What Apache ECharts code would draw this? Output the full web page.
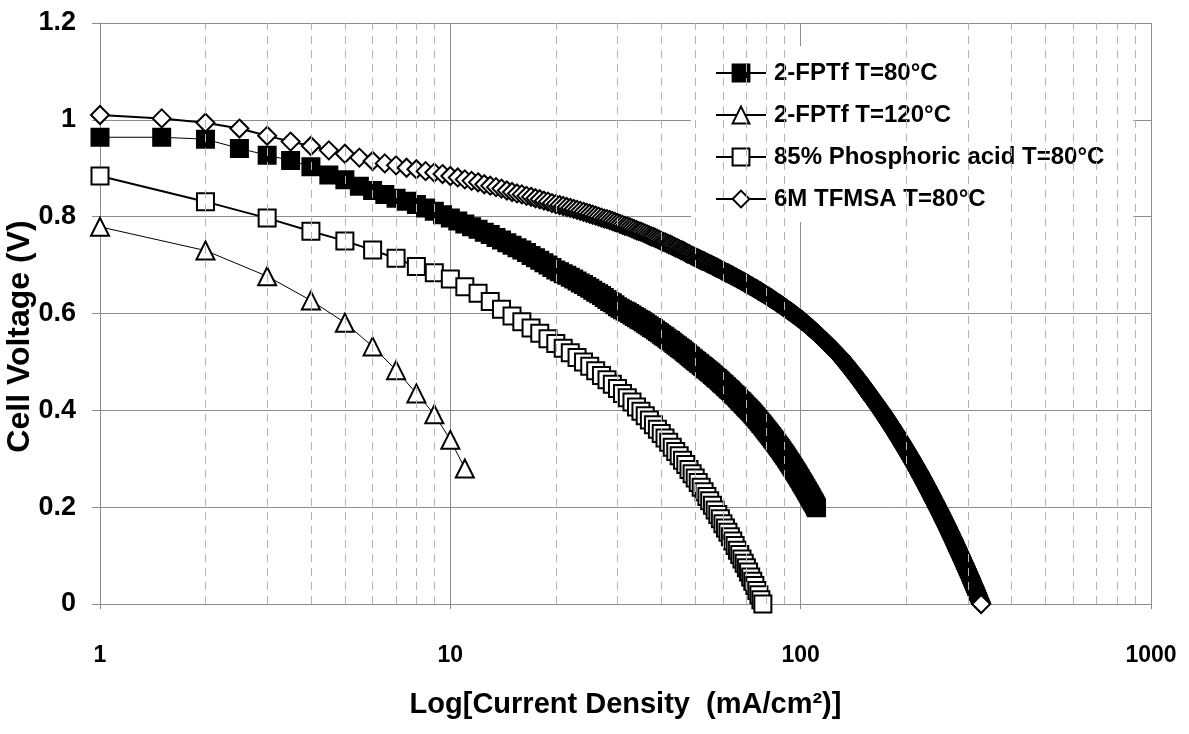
<!DOCTYPE html>
<html>
<head>
<meta charset="utf-8">
<script src="https://cdn.jsdelivr.net/npm/echarts@6/dist/echarts.min.js"></script>
<style>
html,body{margin:0;padding:0;background:#fff;}
#chart{width:1189px;height:734px;}
</style>
</head>
<body>
<div id="chart"></div>
<script>
// ---- Data (x = current density, mA/cm2; y = cell voltage, V) ----
const seriesNames = ['2-FPTf T=80°C', '2-FPTf T=120°C', '85% Phosphoric acid T=80°C', '6M TFMSA T=80°C'];

// 2-FPTf T=80°C : current density 1, 1.5, 2, ... 111 (step 0.5)
const fptf80Start = 1, fptf80Step = 0.5;
const fptf80V = [
0.964,0.964,0.960,0.941,0.927,0.916,0.903,0.886,0.876,0.863,0.854,0.846,0.838,0.832,0.825,0.818,0.811,0.804,0.797,
0.791,0.785,0.779,0.774,0.768,0.763,0.757,0.752,0.746,0.741,
0.736,0.731,0.726,0.720,0.715,0.710,0.705,0.700,0.695,0.690,
0.686,0.682,0.679,0.675,0.671,0.667,0.663,0.660,0.656,0.652,0.648,0.644,0.641,0.637,0.633,0.629,0.625,0.622,0.618,0.614,
0.611,0.608,0.605,0.603,0.600,0.597,0.594,0.591,0.588,0.586,0.583,0.580,0.577,0.574,0.571,0.569,0.566,0.563,0.560,0.557,
0.554,0.552,0.549,0.546,0.544,0.541,0.538,0.535,0.533,0.530,0.527,0.525,0.522,0.519,0.517,0.514,0.511,0.508,0.506,0.503,
0.501,0.498,0.496,0.493,0.491,0.489,0.486,0.484,0.481,0.479,0.477,0.474,0.472,0.469,0.467,0.465,0.462,0.460,0.457,0.455,
0.453,0.450,0.448,0.445,0.443,0.441,0.438,0.436,0.433,0.431,0.429,0.426,0.424,0.421,0.419,0.417,0.414,0.412,0.409,0.407,0.405,0.403,0.400,0.398,
0.396,0.393,0.391,0.388,0.386,0.383,0.381,0.378,0.376,0.373,0.371,0.368,0.366,0.363,0.361,0.358,
0.356,0.353,0.351,0.348,0.346,0.343,0.341,0.338,0.336,0.333,0.331,0.328,0.326,0.323,0.321,0.318,0.316,0.313,0.311,0.308,
0.306,0.303,0.300,0.298,0.295,0.293,0.290,0.287,0.285,0.282,0.280,0.277,0.274,0.272,0.269,0.267,0.264,0.261,0.259,0.256,
0.253,0.251,0.248,0.246,0.243,0.240,0.238,0.235,0.233,0.230,0.227,0.225,0.222,0.220,0.217,0.214,0.212,0.209,0.207,0.204,0.201,0.199
];

// 2-FPTf T=120°C : current density 1 ... 11 (step 1)
const fptf120Start = 1, fptf120Step = 1;
const fptf120V = [0.779,0.730,0.677,0.627,0.581,0.532,0.483,0.435,0.392,0.339,0.280];

// 85% Phosphoric acid T=80°C : current density 1 ... 78 (step 1)
const phosStart = 1, phosStep = 1;
const phosV = [
0.884,0.831,0.797,0.770,0.750,0.731,0.714,0.697,0.684,0.671,
0.655,0.642,0.625,0.609,0.595,0.583,0.570,0.559,0.548,0.538,
0.528,0.519,0.509,0.500,0.491,
0.482,0.472,0.463,0.454,0.445,0.435,0.426,0.417,0.407,
0.398,0.389,0.380,0.370,0.361,0.352,0.343,0.334,0.324,0.315,0.306,0.297,0.288,0.278,0.269,0.260,
0.251,0.241,0.232,0.222,0.213,0.204,0.194,0.185,0.176,0.166,
0.157,0.148,0.139,0.130,0.121,0.111,0.102,0.093,0.084,0.075,
0.066,0.056,0.047,0.038,0.028,0.019,0.009,0.000
];

// 6M TFMSA T=80°C : current density 1, 1.5, 2, ... 327.5 (step 0.5)
const tfmsaStart = 1, tfmsaStep = 0.5;
const tfmsaV = [
1.010,1.003,0.994,0.982,0.967,0.955,0.946,0.937,0.930,0.922,0.915,0.910,0.906,0.901,0.898,0.894,0.891,0.888,0.884,
0.881,0.877,0.874,0.871,0.867,0.864,0.861,0.858,0.854,0.851,
0.848,0.846,0.843,0.841,0.838,0.836,0.833,0.831,0.828,0.826,
0.824,0.822,0.820,0.818,0.816,0.814,0.812,0.810,0.808,0.806,
0.804,0.802,0.800,0.798,0.796,0.795,0.793,0.791,0.789,0.787,
0.785,0.783,0.781,0.780,0.778,0.776,0.774,0.772,0.770,0.769,
0.767,0.765,0.763,0.761,0.759,0.758,0.756,0.754,0.752,0.750,
0.748,0.747,0.745,0.743,0.742,0.740,0.738,0.736,0.735,0.733,
0.731,0.730,0.728,0.726,0.724,0.723,0.721,0.719,0.718,0.716,
0.715,0.713,0.712,0.710,0.709,0.708,0.706,0.705,0.703,0.702,
0.701,0.699,0.698,0.696,0.695,0.694,0.692,0.691,0.689,0.688,
0.687,0.685,0.684,0.683,0.682,0.680,0.679,0.678,0.676,0.675,
0.674,0.672,0.671,0.670,0.669,0.667,0.666,0.665,0.663,0.662,
0.661,0.660,0.658,0.657,0.656,0.655,0.653,0.652,0.651,0.650,
0.648,0.647,0.646,0.645,0.643,0.642,0.641,0.640,0.638,0.637,
0.636,0.635,0.633,0.632,0.631,0.630,0.628,0.627,0.626,0.625,
0.623,0.622,0.621,0.620,0.618,0.617,0.616,0.615,0.613,0.612,
0.611,0.610,0.608,0.607,0.606,0.605,0.604,0.602,0.601,0.600,
0.599,0.598,0.596,0.595,0.594,0.593,0.591,0.590,0.589,0.588,
0.587,0.585,0.584,0.583,0.582,0.580,0.579,0.578,0.576,0.575,
0.574,0.572,0.571,0.570,0.569,0.567,0.566,0.565,0.563,0.562,
0.561,0.559,0.558,0.557,0.556,0.554,0.553,0.552,0.550,0.549,
0.548,0.546,0.545,0.544,0.543,0.541,0.540,0.539,0.537,0.536,
0.535,0.533,0.532,0.531,0.530,0.528,0.527,0.526,0.524,0.523,
0.522,0.520,0.519,0.518,0.517,0.515,0.514,0.513,0.511,0.510,
0.509,0.507,0.506,0.504,0.503,0.501,0.500,0.499,0.497,0.496,
0.494,0.493,0.491,0.490,0.489,0.487,0.486,0.484,0.483,0.482,
0.480,0.479,0.477,0.476,0.474,0.473,0.472,0.470,0.469,0.467,
0.466,0.465,0.463,0.462,0.460,0.459,0.457,0.456,0.455,0.453,
0.452,0.450,0.449,0.447,0.446,0.445,0.443,0.442,0.440,0.439,
0.438,0.436,0.435,0.433,0.432,0.430,0.429,0.428,0.426,0.425,
0.424,0.422,0.421,0.420,0.418,0.417,0.416,0.414,0.413,0.412,
0.410,0.409,0.408,0.406,0.405,0.404,0.402,0.401,0.400,0.398,
0.397,0.396,0.394,0.393,0.392,0.390,0.389,0.388,0.386,0.385,
0.383,0.382,0.381,0.379,0.378,0.377,0.375,0.374,0.373,0.371,
0.370,0.369,0.367,0.366,0.365,0.363,0.362,0.361,0.359,0.358,
0.357,0.355,0.354,0.353,0.351,0.350,0.349,0.347,0.346,0.345,
0.343,0.342,0.341,0.339,0.338,0.337,0.335,0.334,0.333,0.331,
0.330,0.329,0.327,0.326,0.325,0.323,0.322,0.321,0.319,0.318,
0.317,0.315,0.314,0.313,0.312,0.310,0.309,0.308,0.306,0.305,
0.304,0.302,0.301,0.300,0.299,0.297,0.296,0.295,0.293,0.292,
0.291,0.289,0.288,0.287,0.286,0.284,0.283,0.282,0.280,0.279,
0.278,0.276,0.275,0.274,0.273,0.271,0.270,0.269,0.267,0.266,
0.265,0.263,0.262,0.261,0.260,0.258,0.257,0.256,0.254,0.253,
0.252,0.250,0.249,0.248,0.247,0.245,0.244,0.243,0.241,0.240,
0.239,0.237,0.236,0.235,0.234,0.232,0.231,0.230,0.228,0.227,
0.226,0.224,0.223,0.222,0.221,0.219,0.218,0.217,0.215,0.214,
0.213,0.212,0.210,0.209,0.208,0.207,0.205,0.204,0.203,0.202,
0.200,0.199,0.198,0.197,0.195,0.194,0.193,0.192,0.190,0.189,
0.188,0.187,0.185,0.184,0.183,0.182,0.180,0.179,0.178,0.177,
0.175,0.174,0.173,0.172,0.170,0.169,0.168,0.167,0.165,0.164,
0.163,0.162,0.160,0.159,0.158,0.157,0.155,0.154,0.153,0.152,
0.150,0.149,0.148,0.147,0.145,0.144,0.143,0.142,0.140,0.139,
0.138,0.137,0.135,0.134,0.133,0.132,0.130,0.129,0.128,0.127,
0.125,0.124,0.123,0.122,0.120,0.119,0.118,0.117,0.115,0.114,
0.113,0.112,0.110,0.109,0.108,0.107,0.106,0.104,0.103,0.102,
0.101,0.100,0.098,0.097,0.096,0.095,0.094,0.092,0.091,0.090,
0.089,0.088,0.086,0.085,0.084,0.083,0.082,0.080,0.079,0.078,
0.077,0.076,0.074,0.073,0.072,0.071,0.070,0.068,0.067,0.066,
0.065,0.064,0.062,0.061,0.060,0.059,0.058,0.056,0.055,0.054,
0.053,0.052,0.050,0.049,0.048,0.047,0.046,0.044,0.043,0.042,
0.041,0.040,0.038,0.037,0.036,0.035,0.034,0.032,0.031,0.030,
0.029,0.028,0.026,0.025,0.024,0.023,0.022,0.020,0.019,0.018,
0.017,0.016,0.014,0.013,0.012,0.011,0.010,0.008,0.007,0.006,
0.005,0.004,0.002,0.001,0.000
];

// Axis ticks
const xMajorTicks = [1, 10, 100, 1000];
const xMinorGrid = [2,3,4,5,6,7,8,9,20,30,40,50,60,70,80,90,200,300,400,500,600,700,800,900];
const yTicks = [0, 0.2, 0.4, 0.6, 0.8, 1, 1.2];

const xTitle = 'Log[Current Density  (mA/cm²)]';
const yTitle = 'Cell Voltage (V)';

// ---- Build chart ----
function toPairs(vals, start, step) { return vals.map((v, i) => [start + i * step, v]); }

const FONT = "'Liberation Sans', Arial, sans-serif";
const gridGray = '#8c8c8c';

const chart = echarts.init(document.getElementById('chart'), null, { renderer: 'canvas' });

const common = { type: 'line', animation: false, emphasis: { disabled: true }, silent: true, z: 3 };

chart.setOption({
  animation: false,
  backgroundColor: '#ffffff',
  grid: { left: 100, right: 38, top: 23, bottom: 130, containLabel: false, outerBoundsMode: 'none' },
  legend: {
    data: seriesNames,
    orient: 'vertical',
    left: 691, top: 46,
    padding: [15, 29, 11, 24],
    itemGap: 18,
    itemWidth: 50,
    itemHeight: 21,
    backgroundColor: '#ffffff',
    selectedMode: false,
    textStyle: { fontFamily: FONT, fontWeight: 'bold', fontSize: 24, color: '#000', padding: [0, 0, 0, 3] }
  },
  xAxis: {
    type: 'log', logBase: 10, min: xMajorTicks[0], max: xMajorTicks[xMajorTicks.length - 1],
    name: xTitle, nameLocation: 'middle', nameGap: 86, nameMoveOverlap: false,
    nameTextStyle: { fontFamily: FONT, fontWeight: 'bold', fontSize: 29, color: '#000' },
    axisLine: { show: true, lineStyle: { color: gridGray, width: 1 } },
    axisTick: { show: true, length: 5, lineStyle: { color: gridGray } },
    minorTick: { show: false },
    axisLabel: { fontFamily: FONT, fontWeight: 'bold', fontSize: 23, color: '#000', margin: 40,
                 formatter: v => String(v) },
    splitLine: { show: true, lineStyle: { color: gridGray, width: 1 } }
  },
  yAxis: {
    type: 'value', min: yTicks[0], max: yTicks[yTicks.length - 1], interval: 0.2,
    name: yTitle, nameLocation: 'middle', nameRotate: 90, nameGap: 64, nameMoveOverlap: false,
    nameTextStyle: { fontFamily: FONT, fontWeight: 'bold', fontSize: 32, color: '#000', padding: [0, 46, 0, 0] },
    axisLine: { show: true, lineStyle: { color: gridGray, width: 1 } },
    axisTick: { show: true, length: 8, lineStyle: { color: gridGray } },
    axisLabel: { fontFamily: FONT, fontWeight: 'bold', fontSize: 27, color: '#000', margin: 24 },
    splitLine: { show: true, lineStyle: { color: gridGray, width: 1 } }
  },
  series: [
    {
      type: 'line', name: '_minorGrid', data: [], silent: true, z: 1, animation: false,
      markLine: {
        silent: true, animation: false, symbol: ['none', 'none'],
        label: { show: false },
        lineStyle: { color: '#b4b4b4', width: 1, type: [8, 6] },
        emphasis: { disabled: true },
        data: xMinorGrid.map(v => ({ xAxis: v }))
      }
    },
    Object.assign({}, common, {
      name: seriesNames[0], data: toPairs(fptf80V, fptf80Start, fptf80Step),
      symbol: 'rect', symbolSize: 17,
      itemStyle: { color: '#000', borderColor: '#000', borderWidth: 2 },
      lineStyle: { color: '#000', width: 1 }
    }),
    Object.assign({}, common, {
      name: seriesNames[1], data: toPairs(fptf120V, fptf120Start, fptf120Step),
      symbol: 'triangle', symbolSize: 18,
      itemStyle: { color: '#fff', borderColor: '#000', borderWidth: 2 },
      lineStyle: { color: '#000', width: 1 }
    }),
    Object.assign({}, common, {
      name: seriesNames[2], data: toPairs(phosV, phosStart, phosStep),
      symbol: 'rect', symbolSize: 17,
      itemStyle: { color: '#fff', borderColor: '#000', borderWidth: 2 },
      lineStyle: { color: '#000', width: 2 }
    }),
    Object.assign({}, common, {
      name: seriesNames[3], data: toPairs(tfmsaV, tfmsaStart, tfmsaStep),
      symbol: 'diamond', symbolSize: 18,
      itemStyle: { color: '#fff', borderColor: '#000', borderWidth: 2 },
      lineStyle: { color: '#000', width: 2 }
    })
  ]
});
</script>
</body>
</html>
